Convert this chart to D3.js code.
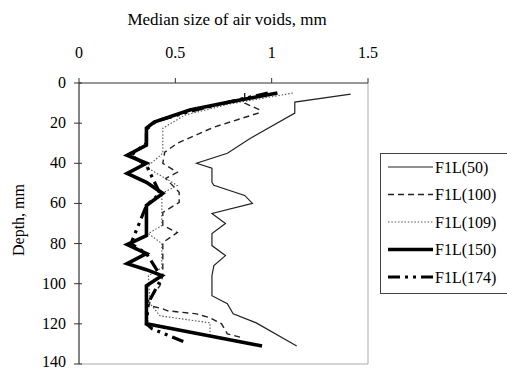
<!DOCTYPE html>
<html>
  <head>
    <script src="https://cdn.jsdelivr.net/npm/d3@7/dist/d3.min.js" charset="utf-8"></script>
    <style>
      body { margin: 0; background: #fff; }
    </style>
  </head>
  <body>
    <svg id="chart" width="507" height="370" font-family="'Liberation Serif', 'DejaVu Serif', serif"></svg>
    <script>
      // depth (mm) and median void size (mm)
      var f50Depth = [5.5, 9.5, 15, 27.5, 35, 40, 42.5, 49.5, 51, 56, 60, 65, 70, 75, 81, 86, 91, 96, 106, 110, 115, 119.5, 131];
      var f50Size  = [1.41, 1.12, 1.12, 0.89, 0.77, 0.61, 0.69, 0.69, 0.70, 0.86, 0.90, 0.69, 0.76, 0.69, 0.69, 0.76, 0.70, 0.69, 0.69, 0.77, 0.80, 0.92, 1.13];

      var f100Depth = [5, 10, 13.5, 15, 22, 30, 34.5, 40, 44.5, 47.5, 54.5, 59.5, 64.5, 71, 74.5, 79.5, 96, 101, 108.5, 111, 112.5, 113.5, 115, 117, 120, 125, 127];
      var f100Size  = [0.86, 0.86, 0.94, 0.93, 0.70, 0.51, 0.445, 0.435, 0.51, 0.45, 0.52, 0.52, 0.435, 0.435, 0.51, 0.435, 0.435, 0.42, 0.36, 0.37, 0.435, 0.46, 0.61, 0.68, 0.74, 0.77, 0.85];

      var f109Depth = [5, 10.5, 16, 22.5, 35, 42, 51, 55, 71, 75, 80, 92, 96, 110, 116, 119.5, 126];
      var f109Size  = [1.11, 0.78, 0.55, 0.435, 0.435, 0.35, 0.51, 0.43, 0.43, 0.36, 0.43, 0.43, 0.36, 0.37, 0.42, 0.68, 0.68];

      var f150Depth = [5, 9.5, 13.5, 19.5, 22.5, 31, 36, 40, 45, 49.5, 55, 61, 76, 80.5, 85, 90, 93, 96, 101, 120, 131];
      var f150Size  = [1.03, 0.78, 0.575, 0.39, 0.35, 0.35, 0.25, 0.35, 0.25, 0.35, 0.435, 0.35, 0.35, 0.25, 0.35, 0.25, 0.35, 0.43, 0.35, 0.35, 0.95];

      var f174Depth = [5, 9, 13.5, 19, 23, 30, 36, 41, 55, 61, 80, 85, 97, 109.5, 120, 122.5, 129.5];
      var f174Size  = [0.98, 0.80, 0.60, 0.40, 0.35, 0.35, 0.27, 0.35, 0.42, 0.35, 0.27, 0.35, 0.43, 0.36, 0.35, 0.38, 0.56];

      var seriesNames = ["F1L(50)", "F1L(100)", "F1L(109)", "F1L(150)", "F1L(174)"];
      var xTicks = [0, 0.5, 1, 1.5];
      var yTicks = [0, 20, 40, 60, 80, 100, 120, 140];

      var series = [
        {name: seriesNames[0], d: f50Depth,  v: f50Size,  w: 1.2, dash: null,             col: "#222"},
        {name: seriesNames[1], d: f100Depth, v: f100Size, w: 1.4, dash: "6,4",            col: "#222"},
        {name: seriesNames[2], d: f109Depth, v: f109Size, w: 1.1, dash: "1.5,1.8",        col: "#555"},
        {name: seriesNames[3], d: f150Depth, v: f150Size, w: 3.6, dash: null,             col: "#000"},
        {name: seriesNames[4], d: f174Depth, v: f174Size, w: 3.2, dash: "12,5,3,5,3,5",   col: "#000"}
      ];

      var svg = d3.select("#chart");
      var x = d3.scaleLinear().domain([0, 1.5]).range([79, 368]);
      var y = d3.scaleLinear().domain([0, 140]).range([83, 364]);

      // light frame right and bottom
      svg.append("path")
        .attr("d", `M${x(1.5)},${y(0)} L${x(1.5)},${y(140)} L${x(0)},${y(140)}`)
        .attr("fill", "none").attr("stroke", "#aaa").attr("stroke-width", 1);

      // top axis
      svg.append("line").attr("x1", x(0)).attr("x2", x(1.5)).attr("y1", y(0)).attr("y2", y(0))
        .attr("stroke", "#333").attr("stroke-width", 1.2);
      svg.selectAll(".xt").data(xTicks).enter().append("line")
        .attr("x1", d => x(d)).attr("x2", d => x(d))
        .attr("y1", y(0) - 5).attr("y2", y(0))
        .attr("stroke", "#333");
      svg.selectAll(".xl").data(xTicks).enter().append("text")
        .attr("x", d => x(d)).attr("y", 58)
        .attr("text-anchor", "middle").attr("font-size", 16)
        .text(d => d);

      // left axis
      svg.append("line").attr("x1", x(0)).attr("x2", x(0)).attr("y1", y(0)).attr("y2", y(140))
        .attr("stroke", "#333").attr("stroke-width", 1.2);
      svg.selectAll(".yt").data(yTicks).enter().append("line")
        .attr("x1", x(0) - 5).attr("x2", x(0) + 3)
        .attr("y1", d => y(d)).attr("y2", d => y(d))
        .attr("stroke", "#333");
      svg.selectAll(".yl").data(yTicks).enter().append("text")
        .attr("x", 66).attr("y", d => Math.min(y(d) + 5, 367))
        .attr("text-anchor", "end").attr("font-size", 16)
        .text(d => d);

      svg.append("text").attr("x", 227).attr("y", 25)
        .attr("text-anchor", "middle").attr("font-size", 17)
        .text("Median size of air voids, mm");
      svg.append("text").attr("transform", "translate(24,220) rotate(-90)")
        .attr("text-anchor", "middle").attr("font-size", 16)
        .text("Depth, mm");

      var line = d3.line().x(p => x(p[1])).y(p => y(p[0]));

      svg.append("g").selectAll("path").data(series).enter().append("path")
        .attr("d", s => line(d3.zip(s.d, s.v)))
        .attr("fill", "none")
        .attr("stroke", s => s.col)
        .attr("stroke-width", s => s.w)
        .attr("stroke-dasharray", s => s.dash)
        .attr("stroke-linejoin", "miter");

      // legend
      var lg = svg.append("g");
      lg.append("rect").attr("x", 380.5).attr("y", 153.5).attr("width", 140).attr("height", 140)
        .attr("fill", "#fff").attr("stroke", "#444").attr("stroke-width", 1);
      var items = lg.selectAll(".li").data(series).enter().append("g")
        .attr("transform", (s, i) => `translate(0,${167 + i * 27.5})`);
      items.append("line").attr("x1", 388).attr("x2", 433).attr("y1", 0).attr("y2", 0)
        .attr("stroke", s => s.col)
        .attr("stroke-width", s => s.w)
        .attr("stroke-dasharray", s => s.dash);
      items.append("text").attr("x", 435).attr("y", 5.5).attr("font-size", 16)
        .text(s => s.name);
    </script>
  </body>
</html>
